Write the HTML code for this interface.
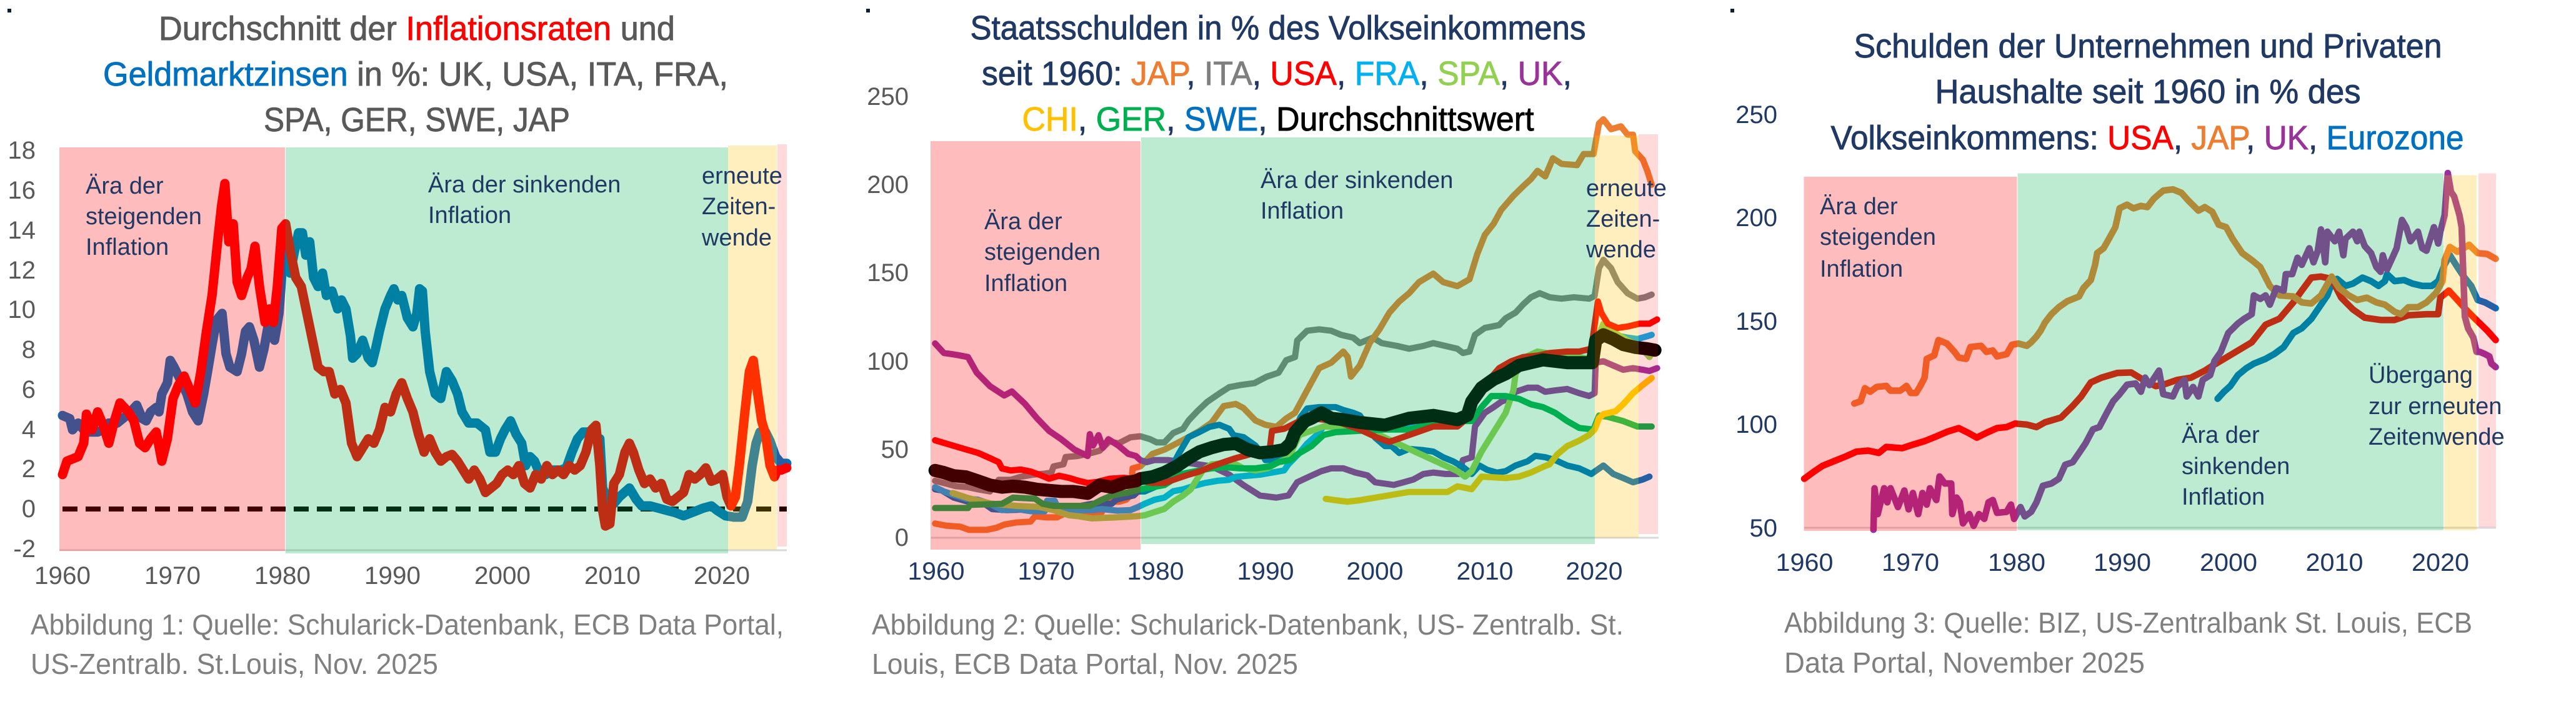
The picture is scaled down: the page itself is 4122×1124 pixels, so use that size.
<!DOCTYPE html>
<html><head><meta charset="utf-8"><style>html,body{margin:0;padding:0;background:#fff}svg{display:block}</style></head>
<body>
<svg xmlns="http://www.w3.org/2000/svg" width="4122" height="1124" viewBox="0 0 4122 1124" font-family="'Liberation Sans', sans-serif">
<rect x="0" y="0" width="4122" height="1124" fill="#ffffff"/>
<!-- small squares -->
<rect x="12" y="14" width="6" height="6" fill="#0a1f33"/>
<rect x="1386" y="14" width="6" height="6" fill="#0a1f33"/>
<rect x="2769" y="14" width="6" height="6" fill="#0a1f33"/>

<!-- ================= PANEL 1 ================= -->
<g font-size="54" fill="#595959" text-anchor="middle" stroke-width="0.9">
<text x="667" y="64" textLength="826" lengthAdjust="spacingAndGlyphs" stroke="#595959">Durchschnitt der <tspan fill="#ff0000" stroke="#ff0000">Inflationsraten</tspan> und</text>
<text x="665" y="137" textLength="1000" lengthAdjust="spacingAndGlyphs" stroke="#595959"><tspan fill="#0070c0" stroke="#0070c0">Geldmarktzinsen</tspan> in %: UK, USA, ITA, FRA,</text>
<text x="667" y="210" textLength="490" lengthAdjust="spacingAndGlyphs" stroke="#595959">SPA, GER, SWE, JAP</text>
</g>
<line x1="95" y1="881" x2="1259" y2="881" stroke="#d9d9d9" stroke-width="3"/>
<line x1="100" y1="815" x2="1259" y2="815" stroke="#000" stroke-width="8" stroke-dasharray="24 13"/>
<g transform="scale(0.892857,0.716837)" fill="none" stroke-linejoin="round" stroke-linecap="round">
<polyline vector-effect="non-scaling-stroke" stroke="#0070c0" stroke-width="15" points="112,928 125,935 130,960 140,945 150,960 160,965 175,965 185,960 195,945 210,945 220,935 230,925 245,905 255,935 262,940 270,920 280,910 285,920 290,880 300,855 305,805 312,820 320,840 335,880 345,920 355,940 365,880 372,830 380,770 388,715 398,700 405,790 412,820 425,830 433,790 440,740 447,730 455,760 465,820 473,780 483,710 492,760 500,700 507,580 513,560 520,610 528,560 535,520 542,520 548,570 555,540 562,620 570,640 578,610 585,660 595,650 605,690 612,670 620,690 628,750 632,800 640,790 650,760 660,800 667,810 673,780 680,740 690,690 700,660 706,645 713,670 720,660 730,710 740,730 747,700 752,645 757,650 762,740 770,830 780,880 790,890 800,830 810,850 820,880 828,920 840,945 855,945 870,960 878,1010 888,1010 897,980 905,960 915,940 925,970 935,990 942,1040 950,1020 958,1030 968,1060 978,1060 990,1050 1005,1050 1015,1045 1025,1010 1035,980 1045,965 1055,965 1065,975 1075,980 1080,1090 1090,1120 1100,1125 1110,1110 1128,1090 1140,1115 1150,1130 1165,1130 1180,1135 1195,1140 1210,1145 1225,1152 1240,1145 1260,1135 1275,1130 1285,1140 1300,1152 1315,1155 1330,1155 1340,1120 1348,1040 1355,990 1362,965 1372,965 1380,985 1390,1020 1400,1035 1410,1035"/>
<polyline vector-effect="non-scaling-stroke" stroke="#ff0000" stroke-width="15" points="112,1060 120,1030 140,1020 150,990 155,925 165,960 175,920 185,950 195,990 205,940 215,900 230,920 240,940 250,990 260,1000 270,980 280,965 290,1030 300,980 310,890 320,860 330,840 340,870 350,900 360,830 370,740 380,660 390,540 397,460 403,410 410,540 418,500 425,630 433,660 443,620 450,600 457,550 465,640 475,720 483,690 490,720 497,640 505,510 512,500 520,560 530,620 540,640 550,700 560,760 570,820 580,830 590,830 600,880 610,870 620,900 630,990 640,1020 650,1000 660,980 670,990 680,960 690,910 700,920 710,880 720,855 730,890 740,920 750,970 760,1010 770,980 780,1010 790,1030 800,1020 810,1015 820,1030 830,1050 840,1070 850,1050 860,1070 870,1100 880,1090 890,1080 900,1060 910,1050 920,1060 930,1040 940,1080 950,1090 960,1060 970,1070 980,1040 990,1060 1000,1050 1010,1060 1020,1040 1030,1050 1040,1040 1050,1010 1060,960 1068,950 1075,1040 1080,1140 1085,1175 1093,1170 1100,1080 1110,1060 1120,1010 1128,990 1135,1010 1145,1050 1155,1080 1165,1070 1175,1090 1185,1080 1195,1115 1205,1120 1215,1110 1225,1100 1235,1060 1245,1070 1255,1060 1265,1045 1275,1075 1285,1070 1295,1060 1303,1110 1310,1130 1318,1110 1325,1040 1335,920 1343,830 1350,805 1358,880 1365,940 1372,970 1380,1040 1388,1065 1393,1050 1400,1050 1410,1045"/>
</g>
<rect x="95" y="236" width="361" height="646" fill="rgba(255,0,0,0.263)"/>
<rect x="457" y="236" width="708" height="650" fill="rgba(0,176,80,0.26)"/>
<rect x="1165" y="233" width="78" height="647" fill="rgba(255,192,0,0.255)"/>
<rect x="1244" y="231" width="15" height="644" fill="rgba(255,0,0,0.145)"/>
<g font-size="40" fill="#595959" text-anchor="end">
<text x="57" y="254">18</text><text x="57" y="318">16</text><text x="57" y="382">14</text><text x="57" y="446">12</text><text x="57" y="509">10</text><text x="57" y="573">8</text><text x="57" y="637">6</text><text x="57" y="701">4</text><text x="57" y="764">2</text><text x="57" y="828">0</text><text x="57" y="892">-2</text>
</g>
<g font-size="40" fill="#595959" text-anchor="middle">
<text x="100" y="935" textLength="90" lengthAdjust="spacingAndGlyphs">1960</text>
<text x="276" y="935" textLength="90" lengthAdjust="spacingAndGlyphs">1970</text>
<text x="452" y="935" textLength="90" lengthAdjust="spacingAndGlyphs">1980</text>
<text x="628" y="935" textLength="90" lengthAdjust="spacingAndGlyphs">1990</text>
<text x="804" y="935" textLength="90" lengthAdjust="spacingAndGlyphs">2000</text>
<text x="980" y="935" textLength="90" lengthAdjust="spacingAndGlyphs">2010</text>
<text x="1155" y="935" textLength="90" lengthAdjust="spacingAndGlyphs">2020</text>
</g>
<g font-size="38" fill="#1f3864">
<text x="137" y="310">Ära der</text><text x="137" y="359">steigenden</text><text x="137" y="408">Inflation</text>
<text x="685" y="308">Ära der sinkenden</text><text x="685" y="357">Inflation</text>
<text x="1123" y="294">erneute</text><text x="1123" y="343">Zeiten-</text><text x="1123" y="393">wende</text>
</g>
<g font-size="46" fill="#7f7f7f">
<text x="49" y="1016" textLength="1205" lengthAdjust="spacingAndGlyphs">Abbildung 1: Quelle: Schularick-Datenbank, ECB Data Portal,</text>
<text x="49" y="1079" textLength="652" lengthAdjust="spacingAndGlyphs">US-Zentralb. St.Louis, Nov. 2025</text>
</g>

<!-- ================= PANEL 2 ================= -->
<g font-size="54" fill="#1f3864" text-anchor="middle" stroke-width="0.9">
<text x="2045" y="63" textLength="985" lengthAdjust="spacingAndGlyphs" stroke="#1f3864">Staatsschulden in % des Volkseinkommens</text>
<text x="2043" y="136" textLength="944" lengthAdjust="spacingAndGlyphs" stroke="#1f3864">seit 1960: <tspan fill="#ed7d31" stroke="#ed7d31">JAP</tspan>, <tspan fill="#7f7f7f" stroke="#7f7f7f">ITA</tspan>, <tspan fill="#ff0000" stroke="#ff0000">USA</tspan>, <tspan fill="#00b0f0" stroke="#00b0f0">FRA</tspan>, <tspan fill="#92d050" stroke="#92d050">SPA</tspan>, <tspan fill="#993399" stroke="#993399">UK</tspan>,</text>
<text x="2045" y="209" textLength="819" lengthAdjust="spacingAndGlyphs" stroke="#1f3864"><tspan fill="#ffc000" stroke="#ffc000">CHI</tspan>, <tspan fill="#00b050" stroke="#00b050">GER</tspan>, <tspan fill="#0070c0" stroke="#0070c0">SWE</tspan>, <tspan fill="#000000" stroke="#000000">Durchschnittswert</tspan></text>
</g>
<line x1="1490" y1="861" x2="2654" y2="861" stroke="#d9d9d9" stroke-width="3"/>
<g transform="translate(1498,860) scale(17.56,-2.824) translate(-1960,0)" fill="none" stroke-linejoin="round" stroke-linecap="round">
<polyline vector-effect="non-scaling-stroke" stroke="#808080" stroke-width="10" points="1959.9,31.9 1960.7,30.7 1961.8,28.9 1962.9,28.3 1963.8,27.1 1964.9,25.9 1965.7,32.5 1966.8,32.5 1967.7,34.2 1968.8,35.4 1969.9,36 1970.5,36.6 1970.7,40.1 1971.6,41.3 1971.8,45.4 1972.9,46 1974.2,47.8 1974.9,49 1975.8,54.3 1976.6,53.1 1977.7,56.6 1978.6,57.2 1979.5,55.5 1980.1,53.7 1980.8,53.7 1981.6,59 1982.5,61.4 1983,66.1 1983.8,71.4 1984.7,76.7 1985.8,81.4 1986.7,85 1987.7,86.2 1989,87.3 1990.1,90.9 1991.2,93.2 1991.9,100.3 1992.7,102.1 1992.9,111.5 1993.8,117 1994.9,117.8 1996,117 1996.9,114.7 1998,113.1 1998.6,110 1999.8,113.1 2000.6,110 2002,108.4 2003.1,106.8 2004.4,108.4 2005.3,110 2006.4,108.4 2007.5,106.8 2008,104.4 2008.6,105.2 2009.1,114.7 2010,118.6 2011.3,120.2 2011.9,124.1 2012.8,127.3 2013.5,132 2014.2,136 2015,138.3 2015.9,136 2017,135.2 2018.1,136 2019.5,135.2 2020,136.7 2020.4,152.5 2020.8,157.2 2021.5,152.5 2022.1,144.6 2023,138.3 2023.9,135.2 2024.6,136 2025.2,137.5"/>
<polyline vector-effect="non-scaling-stroke" stroke="#ed7d31" stroke-width="10" points="1959.9,7.7 1960.9,6.5 1962.2,5.9 1963,4.1 1964.6,4.1 1965.5,5.3 1966.2,7.1 1967.3,8.3 1968.6,8.8 1969,11.8 1970.1,11.2 1971,11.2 1971.6,13 1972.5,13.6 1975.1,14.2 1975.3,18.9 1976,20.1 1976.7,20.1 1977.3,21.2 1977.7,23.6 1977.9,39 1978.6,40.1 1979,42.5 1979.7,47.2 1980.8,49.6 1981.9,53.1 1983,56.7 1984,60.2 1985.1,64.9 1986.2,74.3 1987.3,75.5 1988,73.2 1989.1,66.1 1990,63.7 1991,62.5 1991.9,67.3 1992.7,70.5 1993.8,83.2 1994.9,95.8 1996,98.9 1997.1,105.2 1997.5,102.1 1997.8,91 1998.6,97.3 1999.5,110 2000.4,117.8 2001.3,127.3 2002.2,133.6 2003.1,138.3 2004,144.6 2005.3,149.4 2006.2,144.6 2007.5,142.3 2008.6,146.2 2009.3,160.4 2010,171.4 2010.8,177.7 2011.5,185.6 2012.6,193.5 2013.5,199 2014.2,203 2014.8,207.7 2015.5,204.5 2016.2,214.8 2017,211.6 2018.4,210.9 2019,217.2 2019.9,217.2 2020.4,234.5 2020.8,236.9 2021.5,231.3 2022.4,232.9 2023,228.2 2023.5,228.2 2023.7,218.7 2024.4,214 2024.8,207.7 2025.2,199.8"/>
<polyline vector-effect="non-scaling-stroke" stroke="#9a30a0" stroke-width="10" points="1959.9,109.8 1960.7,104.4 1961.9,103.3 1962.9,102.1 1963.7,93.2 1964.9,85.6 1966.2,80.3 1966.9,82.6 1968.1,75.5 1969.2,67.3 1970.3,60.2 1971.4,55.5 1972.6,49.6 1973.8,46 1974,58.4 1974.3,51.9 1974.8,57.8 1975.2,50.7 1975.7,55.5 1976.6,51.9 1977.5,47.2 1978.2,46 1978.6,43.7 1979.2,42.5 1979.9,43.7 1981.1,43.7 1982.5,42.5 1983.8,41.3 1985.1,40.1 1986.7,35.4 1988,29.5 1989.5,23.6 1991,22.4 1992.1,23.6 1992.9,31.1 1994,34.3 1995.1,37.4 1996,39 1997.1,39 1998.2,36.6 1999.3,35 2000,31.1 2000.9,30.3 2001.7,29.6 2002.6,31.1 2003.5,32.7 2004.4,35.8 2005.3,36.6 2006.4,35.8 2007.6,35.8 2008,43.7 2008.8,45.3 2009.1,62.7 2010,70.5 2010.8,73.7 2011.5,76.8 2012.2,78.4 2012.8,82.4 2013.9,84.7 2014.8,84.7 2015.5,82.4 2016.4,83.2 2017.5,84 2018.6,81.6 2019.5,80 2020,81.6 2020.1,98.9 2020.8,99.7 2021.7,97.3 2022.6,94.9 2023.5,95.8 2024.4,94.9 2025,94.2 2025.7,95.8"/>
<polyline vector-effect="non-scaling-stroke" stroke="#0070c0" stroke-width="10" points="1959.9,27.1 1960.5,26.5 1961.6,22.4 1962.9,20.1 1964.4,18.9 1965.1,15.9 1966.4,15.3 1969.4,15.9 1970.5,17 1973,17.5 1974.2,18.9 1976,18.9 1976.4,21.2 1977.1,22.4 1978,23.6 1978.4,25.9 1979,25.9 1979.9,28.3 1981,31.9 1981.6,41.3 1982.1,47.2 1983,56.7 1983.8,59 1984.9,62.5 1985.8,63.7 1986.7,61.4 1987.1,57.8 1988,56.7 1989.1,51.9 1989.7,47.2 1990,43.7 1991.2,43.7 1991.9,47.2 1992.5,58 1993.2,68 1993.8,72.9 1994.9,73.7 1996.4,73.7 1997.1,72.1 1998,70.5 1998.6,69 2000,56.4 2000.9,51.6 2001.5,51.6 2002.2,47.7 2003.1,50 2004.4,49.3 2005.3,48.5 2006.2,45.3 2007.1,43 2008,39.8 2008.8,35.8 2009.5,40.6 2010.2,38.2 2011.1,36.6 2011.9,37.4 2012.8,40.6 2013.9,43 2014.6,46.1 2015.5,45.3 2016.4,43.7 2017.5,40.6 2018.6,39 2019.7,35.8 2020.8,40.6 2021.7,35.8 2022.6,33.5 2023.5,31.1 2024.4,32.7 2025,34.3"/>
<polyline vector-effect="non-scaling-stroke" stroke="#00b0f0" stroke-width="10" points="1959.9,28.3 1960.7,25.9 1961.8,23.6 1962.7,21.8 1963.8,21.2 1964.9,18.9 1966,15.3 1967.3,15.9 1968.6,14.7 1969.9,14.7 1970.1,20.6 1970.8,20.6 1971,17.7 1971.6,16.5 1972.9,15.3 1974.2,15.3 1975.1,15.9 1976.5,15 1977.7,15.3 1978.4,17.1 1979,18.9 1979.9,21.2 1980.8,22.4 1981.6,26 1982.5,27.1 1983.4,28.9 1984.5,30.7 1985.6,31.9 1986.7,32.5 1987.3,34.2 1988.4,34.8 1989.5,35.4 1990.6,36.6 1991.7,37.8 1992.1,41.3 1993,47 1993.8,53 1994.7,58 1995.3,62.7 1996.4,64.3 1998.6,64.3 2000.9,62.7 2003.1,62.7 2005.3,67.4 2008.4,67.4 2009.1,76.8 2010.2,86.3 2011.3,91.8 2012.4,95 2013.5,98.1 2014.8,100.5 2016.4,100.5 2018.6,99.7 2019.9,100.5 2020.3,110 2020.8,116.3 2021.7,114.7 2023,113.1 2023.9,112.3 2024.8,113.9 2025.2,114.7"/>
<polyline vector-effect="non-scaling-stroke" stroke="#92d050" stroke-width="10" points="1961.5,25 1963,22 1965,19 1967.3,17.7 1969.4,17.1 1970.7,15.3 1971.2,14.2 1972.1,12.4 1973,11.8 1974.2,10.6 1976.4,11.2 1978.2,11.8 1979,12.4 1979.9,14.2 1980.8,16 1981.6,20.1 1982.5,23.6 1983.2,27.1 1983.8,33.1 1984.3,37.8 1985.1,41.3 1986.2,41.9 1987.3,41.3 1988,39 1989.1,37.8 1990.2,39 1991.2,42.5 1992.1,44.8 1993.1,57.9 1995.3,62.7 1999,62 2000.9,56.4 2003.1,50 2005.3,43.7 2007.5,37.4 2008.2,34.3 2008.8,37.4 2009.7,48.5 2010.8,59.5 2011.9,70.5 2012.6,83.2 2012.8,92.6 2013.7,102.1 2014.8,105.2 2016.4,103.6 2018.6,102.1 2019.9,100.5 2020.4,114.7 2020.8,121 2021.7,116.3 2023,111.5 2024.1,108.4 2025,102.1 2025.2,104"/>
<polyline vector-effect="non-scaling-stroke" stroke="#00b050" stroke-width="10" points="1959.9,16.5 1962.9,16.5 1963.1,18.3 1966,18.9 1967,22.4 1969,21.8 1969.7,18.9 1970.7,17.7 1974,17.7 1975.1,21.2 1976,23.6 1977.5,25.3 1978.6,27.1 1979.7,28.3 1980.8,29.5 1981.4,31.9 1982.1,35.4 1983,36.6 1984,37.8 1985.1,39 1986.4,39.6 1987.7,39 1989.1,39 1990.4,40.1 1991.2,42.5 1992.3,43.7 1992.9,46.9 1994.2,51.6 1995.3,57.9 1996.4,59.5 1998.6,60.3 2000.9,61 2003.1,61 2005.3,64.3 2007.5,65.8 2008.8,65.8 2009.7,73.7 2010.6,80 2011.9,80 2013.1,78.4 2014.2,75.3 2015.3,73.7 2016.4,70.5 2017.5,65.8 2018.6,61.9 2019.9,61 2020.4,68.9 2021.2,68.2 2022.6,65.8 2023.9,62.7 2025.2,62.7"/>
<polyline vector-effect="non-scaling-stroke" stroke="#ff0000" stroke-width="10" points="1959.9,54.9 1961.2,52.5 1962.5,50.1 1963.8,47.8 1964.9,44.8 1965.7,42.5 1966,38.9 1966.8,37.8 1967.7,38.3 1968.6,37.2 1969.4,35.4 1970.3,33.1 1971.2,34.8 1972.1,33.6 1973,31.9 1973.8,30.7 1974.7,31.3 1975.8,33.1 1977.1,33.6 1977.9,33.1 1978.6,31.9 1979.7,30.7 1980.8,30.7 1981.9,33.1 1983,35.4 1984,37.2 1985.1,40.1 1986.2,42.5 1987.3,44.8 1988.4,46.6 1989.5,49 1990.4,50.1 1990.6,60.2 1991.7,61.4 1993.1,65.8 1994.2,67.4 1996.4,65.8 1998.6,61 2000.2,56.4 2001.3,54 2003.1,57.9 2005.3,62.7 2007.5,62.7 2008.4,67.4 2009.1,80 2010.2,87.9 2011.3,95.8 2012.4,99.7 2013.5,102.1 2014.8,102.9 2015.9,104.4 2017.5,105.2 2018.6,105.2 2019.7,106.8 2020.3,133.6 2020.6,127.3 2021.2,121 2022.1,118.6 2023,119.4 2024.1,121 2025,121 2025.7,123.4"/>
<polyline vector-effect="non-scaling-stroke" stroke="#ffc000" stroke-width="10" points="1995.5,21.7 1996.4,20.9 1997.5,20.1 1998.6,20.9 2000.9,23.3 2003.1,25.6 2006.6,25.6 2007.5,28.8 2008.8,27.2 2009.7,34.3 2011.9,33.5 2013.1,34.3 2014.2,36.6 2015.3,39.8 2015.9,41.3 2016.6,46.9 2017.5,51.6 2018.6,54.7 2019.5,57.9 2020,61 2020.4,67.4 2020.8,69.7 2021.9,71.3 2022.6,75.3 2023.5,81.6 2024.4,86.3 2025.2,90.2"/>
<polyline vector-effect="non-scaling-stroke" stroke="#000000" stroke-width="21" points="1959.9,37.8 1960.7,36.6 1961.6,34.8 1962.7,34.2 1963.8,31.9 1964.9,29.5 1966,28.3 1967,28.9 1968.1,28.3 1969.2,27.1 1970.3,26.5 1971.4,25.9 1972.5,25.9 1973.8,24.8 1974.2,26.5 1974.9,29.5 1976,28.3 1977.1,30.7 1978.2,31.9 1978.6,33.1 1979.7,34.2 1980.8,36.6 1981.9,40.1 1983,44.8 1984,48.4 1985.1,50.7 1986.2,52.5 1987.3,53.1 1988.4,49.6 1989.5,47.8 1990.6,48.4 1991.7,49.6 1992.3,53.1 1992.7,59.5 1993.6,65.8 1994.2,67.4 1995.1,70.5 1996,67.4 1997.1,66.6 1998.6,65 2000.9,63.5 2003.1,67.4 2005.3,69 2007.5,66.6 2008.4,69 2008.8,76.8 2009.7,84.7 2010.8,89.5 2011.9,92.6 2013.1,97.3 2014.2,98.9 2015.3,100.5 2016.4,99.7 2017.5,98.9 2018.6,98.9 2019.8,98.9 2020.1,111.5 2020.8,114.7 2021.7,112.3 2022.6,109.2 2023.7,107.6 2024.8,106.8 2025.5,106"/>
</g>
<rect x="1489" y="226" width="336" height="654" fill="rgba(255,0,0,0.263)"/>
<rect x="1826" y="220" width="726" height="651" fill="rgba(0,176,80,0.26)"/>
<rect x="2552" y="217" width="70" height="644" fill="rgba(255,192,0,0.255)"/>
<rect x="2622" y="215" width="31" height="640" fill="rgba(255,0,0,0.145)"/>
<g font-size="40" fill="#595959" text-anchor="end">
<text x="1454" y="168">250</text><text x="1454" y="309">200</text><text x="1454" y="450">150</text><text x="1454" y="592">100</text><text x="1454" y="733">50</text><text x="1454" y="874">0</text>
</g>
<g font-size="40" fill="#1f3864" text-anchor="middle">
<text x="1498" y="928" textLength="91" lengthAdjust="spacingAndGlyphs">1960</text>
<text x="1674" y="928" textLength="91" lengthAdjust="spacingAndGlyphs">1970</text>
<text x="1849" y="928" textLength="91" lengthAdjust="spacingAndGlyphs">1980</text>
<text x="2025" y="928" textLength="91" lengthAdjust="spacingAndGlyphs">1990</text>
<text x="2200" y="928" textLength="91" lengthAdjust="spacingAndGlyphs">2000</text>
<text x="2376" y="928" textLength="91" lengthAdjust="spacingAndGlyphs">2010</text>
<text x="2551" y="928" textLength="91" lengthAdjust="spacingAndGlyphs">2020</text>
</g>
<g font-size="38" fill="#1f3864">
<text x="1575" y="367">Ära der</text><text x="1575" y="416">steigenden</text><text x="1575" y="466">Inflation</text>
<text x="2017" y="301">Ära der sinkenden</text><text x="2017" y="350">Inflation</text>
<text x="2538" y="314">erneute</text><text x="2538" y="363">Zeiten-</text><text x="2538" y="412">wende</text>
</g>
<g font-size="46" fill="#7f7f7f">
<text x="1395" y="1016" textLength="1203" lengthAdjust="spacingAndGlyphs">Abbildung 2: Quelle: Schularick-Datenbank, US- Zentralb. St.</text>
<text x="1395" y="1079" textLength="682" lengthAdjust="spacingAndGlyphs">Louis, ECB Data Portal, Nov. 2025</text>
</g>

<!-- ================= PANEL 3 ================= -->
<g font-size="54" fill="#1f3864" text-anchor="middle" stroke-width="0.9">
<text x="3437" y="92" textLength="941" lengthAdjust="spacingAndGlyphs" stroke="#1f3864">Schulden der Unternehmen und Privaten</text>
<text x="3437" y="165" textLength="681" lengthAdjust="spacingAndGlyphs" stroke="#1f3864">Haushalte seit 1960 in % des</text>
<text x="3436" y="239" textLength="1013" lengthAdjust="spacingAndGlyphs" stroke="#1f3864">Volkseinkommens: <tspan fill="#ff0000" stroke="#ff0000">USA</tspan>, <tspan fill="#ed7d31" stroke="#ed7d31">JAP</tspan>, <tspan fill="#993399" stroke="#993399">UK</tspan>, <tspan fill="#0070c0" stroke="#0070c0">Eurozone</tspan></text>
</g>
<line x1="2887" y1="845" x2="3994" y2="845" stroke="#d9d9d9" stroke-width="3"/>
<g transform="translate(2887,845) scale(17.05,-3.31) translate(-1960,-50)" fill="none" stroke-linejoin="round" stroke-linecap="round">
<polyline vector-effect="non-scaling-stroke" stroke="#0070c0" stroke-width="10.5" points="1998.8,112.4 1999.4,115.8 2000,118.6 2000.7,123.8 2001.5,127.2 2002.2,129.4 2003.3,131.7 2004.1,134 2005,137.4 2005.9,144.2 2006.7,146.5 2007.6,151.1 2008.5,157.9 2009.1,162.4 2009.5,168.1 2010,170.4 2010.8,167 2011.5,168.1 2012.4,171 2013.2,169.3 2013.9,167 2014.5,169.3 2014.7,172.7 2015.4,169.3 2016.3,169.8 2017.1,168.1 2018,167 2018.9,167 2019.5,169.3 2020.1,177.2 2020.6,181.8 2021.3,176.1 2021.9,171.5 2022.6,167 2023.2,160.2 2023.9,159 2024.9,156.2"/>
<polyline vector-effect="non-scaling-stroke" stroke="#ff0000" stroke-width="10.5" points="1960,73.7 1960.9,77.1 1961.7,79.9 1962.8,82.2 1963.9,84.5 1964.9,86.8 1966,87.3 1967,86.2 1967.7,89.1 1969.2,88.5 1970.2,90.2 1971.3,91.9 1972.4,94.2 1973.4,96.4 1974.5,98.2 1975.4,95.9 1976.2,93.6 1977.1,95.9 1978.1,98.2 1979,98.7 1979.8,100.4 1980.9,99.9 1981.8,98.7 1982.6,101 1984.1,103.3 1985.2,108.9 1986,113.5 1986.9,120.3 1987.9,122.6 1989.4,124.9 1990.7,125.1 1992,121 1993,118.5 1993.7,119.2 1995,121.5 1996.3,122.6 1997.6,126 1998.3,128.3 1999.4,131.7 2000.7,135.7 2002,139.7 2003.3,148.2 2004.6,151.1 2005.9,159 2006.7,164.7 2007.6,171 2008.5,171.5 2009.5,170.4 2010.4,161.3 2011.5,155.6 2012.6,151.6 2014.1,150.5 2015.4,150.5 2016.7,152.8 2018.4,153.3 2019.5,153.3 2019.7,161.3 2020.5,164.7 2021.3,160.2 2022.3,154.5 2023.2,149.9 2024.1,145.4 2024.9,140.8"/>
<polyline vector-effect="non-scaling-stroke" stroke="#ed7d31" stroke-width="10.5" points="1964.7,110.1 1965.3,111.2 1965.7,117.5 1966.2,115.8 1966.8,118.1 1967.7,118.6 1968.1,116.3 1969,116.3 1969.6,118.6 1970,115.2 1970.5,115.2 1970.9,118.6 1971.3,122.6 1971.5,131.7 1972.2,133.4 1972.6,140.8 1973.4,139.1 1974.1,135.1 1974.5,132.3 1975.2,131.7 1975.6,137.4 1976.6,138 1977.1,135.1 1977.7,135.7 1978.1,132.9 1979,134 1979.5,138.5 1980.1,139.1 1980.9,138 1981.3,139.7 1981.8,142.5 1982.2,145.4 1982.6,149.3 1983.2,153.3 1983.9,156.7 1984.7,159.6 1985.8,161.9 1986.2,165.9 1986.9,169.8 1987.3,177.2 1987.5,182.9 1988.1,185.2 1988.6,189.8 1989.2,195.4 1989.6,204.5 1990.3,206.3 1990.9,204.5 1991.6,205.7 1992.2,205.1 1992.8,209.1 1993.3,211.4 1993.7,213.1 1994.6,213.7 1995.4,212 1996.1,208 1997,203.4 1997.6,205.1 1998.3,202.8 1998.9,196.6 1999.6,195.4 2000.2,189.8 2001.1,182.9 2002,179.5 2002.8,176.1 2003.7,167 2004.6,162.4 2005.9,161.9 2006.7,159 2007.6,158.5 2008.5,162.4 2009.5,171.5 2010.2,165.9 2011.1,162.4 2011.9,160.2 2012.8,161.3 2013.7,159 2014.5,157.9 2015.4,154.5 2016,153.3 2016.7,156.7 2017.6,156.7 2018.4,159 2019.3,163.6 2019.9,169.3 2020.1,179.5 2020.6,185.8 2021.3,183.5 2021.9,185.2 2022.4,186.9 2023.2,182.9 2024.1,182.4 2024.9,180.1"/>
<polyline vector-effect="non-scaling-stroke" stroke="#9a30a0" stroke-width="10.5" points="1966.5,49 1966.6,69.1 1966.9,56.6 1967.5,69.1 1967.8,62.3 1968.1,69.1 1968.8,60 1969.4,68 1969.8,58.9 1970.2,66.8 1970.7,56.6 1971.1,66.8 1971.5,61.2 1971.8,69.1 1972.4,63.4 1972.7,74.8 1973.2,71.4 1973.8,71.4 1973.9,56.6 1974.3,64.6 1974.6,62.3 1974.9,52.1 1975.5,56.6 1975.9,50.9 1976.4,56.6 1976.9,54.3 1977.3,62.3 1977.7,63.4 1978.1,57.2 1979,57.7 1979.4,61.2 1979.7,54.3 1980.3,60 1980.7,55.5 1981.3,57.7 1981.8,62.3 1982.4,70.3 1983.2,71.4 1983.9,73.7 1984.5,80.5 1985.2,81.7 1985.8,86.2 1986.4,90.8 1987.1,97.6 1987.7,98.7 1988.4,105.6 1989,111.2 1989.6,114.6 1990.3,119.2 1991.1,119.8 1991.6,115.8 1992,122.6 1992.4,119 1993.3,126 1993.7,114.6 1994.6,113.5 1995,118.1 1995.7,121.5 1995.9,113.5 1996.5,118.1 1997,113.5 1997.4,121.5 1998.1,123.8 1998.5,130.6 1999.1,135.1 1999.8,144.2 2000.7,148.8 2001.3,151.1 2002,153.3 2002.2,162.4 2002.8,160.7 2003.3,162.4 2003.7,157.9 2004.3,165.9 2005,164.7 2005.2,172.7 2005.8,172.7 2006.3,180.6 2006.7,177.2 2007.4,185.2 2007.8,178.4 2008.2,184 2008.5,194.3 2008.9,178.4 2009.1,193.2 2009.8,188.6 2010.2,193.2 2010.6,181.8 2010.8,189.8 2011.5,193.2 2011.9,188.6 2012.1,193.2 2012.6,186.3 2013.2,182.9 2013.7,176.1 2014.1,173.8 2014.3,181.8 2014.7,175 2015.2,180.6 2015.6,185.2 2016.1,198.9 2016.5,195.4 2016.9,188.6 2017.6,193.2 2018,185.2 2018.4,184 2019.1,195.4 2019.5,187.5 2019.7,193.2 2020.1,201.1 2020.4,221.6 2020.7,212.5 2021,210.2 2021.5,201.1 2021.7,195.4 2022,152.2 2022.3,146.5 2022.8,142 2023.1,135.1 2023.4,135.1 2023.9,134 2024.3,132.9 2024.5,129.4 2024.9,127.7"/>
</g>
<rect x="2886.5" y="283" width="341" height="567" fill="rgba(255,0,0,0.263)"/>
<rect x="3228.5" y="277.5" width="681.5" height="571.5" fill="rgba(0,176,80,0.26)"/>
<rect x="3911" y="280.5" width="52" height="568.5" fill="rgba(255,192,0,0.255)"/>
<rect x="3966" y="277.5" width="28" height="566.5" fill="rgba(255,0,0,0.145)"/>
<g font-size="40" fill="#1f3864" text-anchor="end">
<text x="2844" y="197">250</text><text x="2844" y="362">200</text><text x="2844" y="528">150</text><text x="2844" y="693">100</text><text x="2844" y="859">50</text>
</g>
<g font-size="40" fill="#1f3864" text-anchor="middle">
<text x="2887.5" y="914" textLength="92" lengthAdjust="spacingAndGlyphs">1960</text>
<text x="3057" y="914" textLength="92" lengthAdjust="spacingAndGlyphs">1970</text>
<text x="3227" y="914" textLength="92" lengthAdjust="spacingAndGlyphs">1980</text>
<text x="3396" y="914" textLength="92" lengthAdjust="spacingAndGlyphs">1990</text>
<text x="3566" y="914" textLength="92" lengthAdjust="spacingAndGlyphs">2000</text>
<text x="3735.5" y="914" textLength="92" lengthAdjust="spacingAndGlyphs">2010</text>
<text x="3905" y="914" textLength="92" lengthAdjust="spacingAndGlyphs">2020</text>
</g>
<g font-size="38" fill="#1f3864">
<text x="2912" y="343">Ära der</text><text x="2912" y="392">steigenden</text><text x="2912" y="443">Inflation</text>
<text x="3491" y="709">Ära der</text><text x="3491" y="759">sinkenden</text><text x="3491" y="808">Inflation</text>
<text x="3790" y="613">Übergang</text><text x="3790" y="663">zur erneuten</text><text x="3790" y="712">Zeitenwende</text>
</g>
<g font-size="46" fill="#7f7f7f">
<text x="2855" y="1013" textLength="1101" lengthAdjust="spacingAndGlyphs">Abbildung 3: Quelle: BIZ, US-Zentralbank St. Louis, ECB</text>
<text x="2855" y="1077" textLength="577" lengthAdjust="spacingAndGlyphs">Data Portal, November 2025</text>
</g>
</svg>
</body></html>
